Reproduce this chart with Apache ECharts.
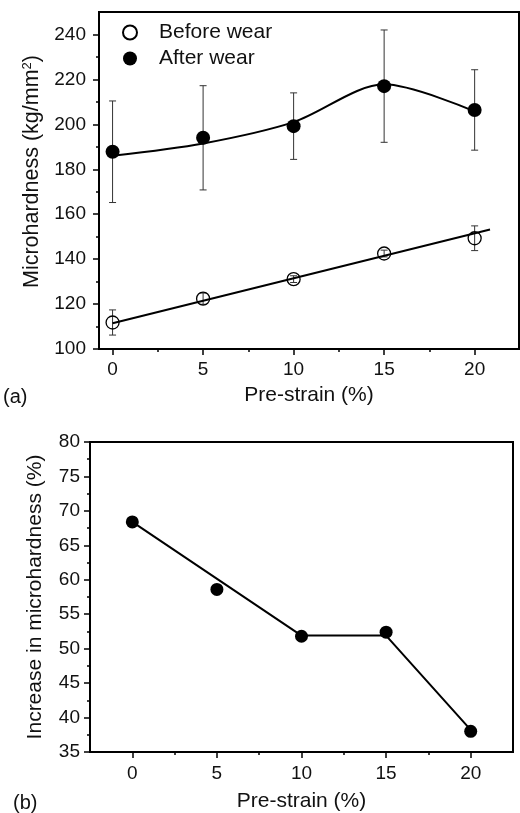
<!DOCTYPE html>
<html><head><meta charset="utf-8">
<script src="https://cdn.jsdelivr.net/npm/echarts@6/dist/echarts.min.js"></script>
<style>html,body{margin:0;padding:0;background:#fff}#c{width:520px;height:813px}</style>
</head><body><div id="c"></div>
<script>
// ---- data ----
const preStrain = [0, 5, 10, 15, 20];
const beforeWear = [111.8, 122.4, 131.1, 142.5, 149.3];
const beforeErr = [5.6, 2.5, 1.5, 1.5, 5.5];
const afterWear = [187.8, 194.0, 199.2, 217.0, 206.4];
const afterErr = [22.6, 23.2, 14.8, 25.0, 17.9];
const beforeFitX = [0, 20.85];
const beforeFitY = [111.5, 153.2];
const afterFitX = [0, 5, 10, 15, 20];
const afterFitY = [186, 191.5, 201, 217.8, 205.8];
const increase = [68.4, 58.6, 51.8, 52.4, 38.0];
const increaseFitX = [0, 10, 15, 20];
const increaseFitY = [68.4, 51.9, 51.9, 38.2];
const xMajor = [0, 5, 10, 15, 20];
const xMinor = [2.5, 7.5, 12.5, 17.5];
const yTopMajor = [100, 120, 140, 160, 180, 200, 220, 240];
const yTopMinor = [110, 130, 150, 170, 190, 210, 230];
const yBotMajor = [35, 40, 45, 50, 55, 60, 65, 70, 75, 80];
const yBotMinor = [37.5, 42.5, 47.5, 52.5, 57.5, 62.5, 67.5, 72.5, 77.5];

const FF = '"Liberation Sans", Arial, sans-serif';
const zip = (a, b) => a.map((v, i) => [v, b[i]]);
const axLine = {show: true, onZero: false, lineStyle: {color: '#000', width: 2}};
const noLine = {show: false, onZero: false};
const tickStyle = {color: '#000', width: 1.5};
const nameStyle = {fontFamily: FF, fontSize: 21, color: '#111'};

function xAxes(gi, min, max, gap, margin) {
  return [
    {type: 'value', gridIndex: gi, min, max, position: 'bottom', axisLine: axLine, splitLine: {show: false},
     axisTick: {show: true, customValues: xMajor, length: 6, lineStyle: tickStyle},
     axisLabel: {customValues: xMajor, margin: margin, fontSize: 19, color: '#111', fontFamily: FF},
     name: 'Pre-strain (%)', nameLocation: 'middle', nameGap: gap, nameTextStyle: nameStyle},
    {type: 'value', gridIndex: gi, min, max, position: 'bottom', axisLine: noLine, splitLine: {show: false},
     axisTick: {show: true, customValues: xMinor, length: 3, lineStyle: tickStyle}, axisLabel: {show: false}}
  ];
}
function yAxes(gi, min, max, major, minor, name, gap, margin, extraName) {
  return [
    {type: 'value', gridIndex: gi, min, max, position: 'left', axisLine: axLine, splitLine: {show: false},
     axisTick: {show: true, customValues: major, length: 6, lineStyle: tickStyle},
     axisLabel: {customValues: major, margin: margin, fontSize: 19, color: '#111', fontFamily: FF},
     name, nameLocation: 'middle', nameGap: gap, nameTextStyle: Object.assign({}, nameStyle, extraName || {})},
    {type: 'value', gridIndex: gi, min, max, position: 'left', axisLine: noLine, splitLine: {show: false},
     axisTick: {show: true, customValues: minor, length: 3, lineStyle: tickStyle}, axisLabel: {show: false}}
  ];
}

function errRender(params, api) {
  const x = api.value(0), lo = api.value(1), hi = api.value(2);
  const p1 = api.coord([x, hi]), p2 = api.coord([x, lo]);
  const w = 3.5;
  const style = {stroke: '#333', lineWidth: 1};
  return {type: 'group', children: [
    {type: 'line', shape: {x1: p1[0], y1: p1[1], x2: p2[0], y2: p2[1]}, style},
    {type: 'line', shape: {x1: p1[0] - w, y1: p1[1], x2: p1[0] + w, y2: p1[1]}, style},
    {type: 'line', shape: {x1: p2[0] - w, y1: p2[1], x2: p2[0] + w, y2: p2[1]}, style}
  ]};
}

const chart = echarts.init(document.getElementById('c'), null, {renderer: 'canvas'});
chart.setOption({
  animation: false,
  backgroundColor: '#fff',
  grid: [
    {left: 99, right: 1, top: 12, height: 337, show: true, borderColor: '#000', borderWidth: 2, backgroundColor: 'transparent'},
    {left: 90, right: 7, top: 442, height: 311, show: true, borderColor: '#000', borderWidth: 2, backgroundColor: 'transparent'}
  ],
  legend: {
    data: ['Before wear', 'After wear'], orient: 'vertical', left: 117, top: 17,
    itemWidth: 14, itemHeight: 14, itemGap: 5,
    textStyle: {fontFamily: FF, fontSize: 21, lineHeight: 20, color: '#111', padding: [0, 0, 0, 17]}
  },
  xAxis: [].concat(xAxes(0, -0.75, 22.45, 36, 11), xAxes(1, -2.5, 22.5, 39, 12)),
  yAxis: [].concat(
    yAxes(0, 100, 250, yTopMajor, yTopMinor, 'Microhardness (kg/mm{sup|2})', 55, 13,
      {fontSize: 21.5, padding: [0, 0, 0, 18],
       rich: {sup: {fontSize: 13, fontFamily: FF, color: '#111', verticalAlign: 'top', padding: [0, 0, 8, 0]}}}),
    yAxes(1, 35, 80, yBotMajor, yBotMinor, 'Increase in microhardness (%)', 44, 10)
  ),
  graphic: [
    {type: 'text', left: 3, top: 387, style: {text: '(a)', fontFamily: FF, fontSize: 20, fill: '#111'}},
    {type: 'text', left: 13, top: 793, style: {text: '(b)', fontFamily: FF, fontSize: 20, fill: '#111'}}
  ],
  series: [
    {type: 'line', name: 'fitBefore', xAxisIndex: 0, yAxisIndex: 0, data: zip(beforeFitX, beforeFitY),
     showSymbol: false, lineStyle: {color: '#000', width: 2}, z: 2, silent: true},
    {type: 'line', name: 'fitAfter', xAxisIndex: 0, yAxisIndex: 0, data: zip(afterFitX, afterFitY), smooth: 0.3,
     showSymbol: false, lineStyle: {color: '#000', width: 2}, z: 2, silent: true},
    {type: 'custom', name: 'errBefore', xAxisIndex: 0, yAxisIndex: 0, renderItem: errRender,
     encode: {x: 0, y: [1, 2]}, data: preStrain.map((x, i) => [x, beforeWear[i] - beforeErr[i], beforeWear[i] + beforeErr[i]]), z: 1},
    {type: 'custom', name: 'errAfter', xAxisIndex: 0, yAxisIndex: 0, renderItem: errRender,
     encode: {x: 0, y: [1, 2]}, data: preStrain.map((x, i) => [x, afterWear[i] - afterErr[i], afterWear[i] + afterErr[i]]), z: 1},
    {type: 'scatter', name: 'Before wear', xAxisIndex: 0, yAxisIndex: 0, data: zip(preStrain, beforeWear),
     symbol: 'circle', symbolSize: 13, itemStyle: {color: 'rgba(255,255,255,0)', borderColor: '#000', borderWidth: 1.3, opacity: 1}, z: 3},
    {type: 'scatter', name: 'After wear', xAxisIndex: 0, yAxisIndex: 0, data: zip(preStrain, afterWear),
     symbol: 'circle', symbolSize: 14, itemStyle: {color: '#000', opacity: 1}, z: 3},
    {type: 'line', name: 'fitIncrease', xAxisIndex: 2, yAxisIndex: 2, data: zip(increaseFitX, increaseFitY),
     showSymbol: false, lineStyle: {color: '#000', width: 2}, z: 2, silent: true},
    {type: 'scatter', name: 'Increase', xAxisIndex: 2, yAxisIndex: 2, data: zip(preStrain, increase),
     symbol: 'circle', symbolSize: 13, itemStyle: {color: '#000', opacity: 1}, z: 3}
  ]
});
</script></body></html>
